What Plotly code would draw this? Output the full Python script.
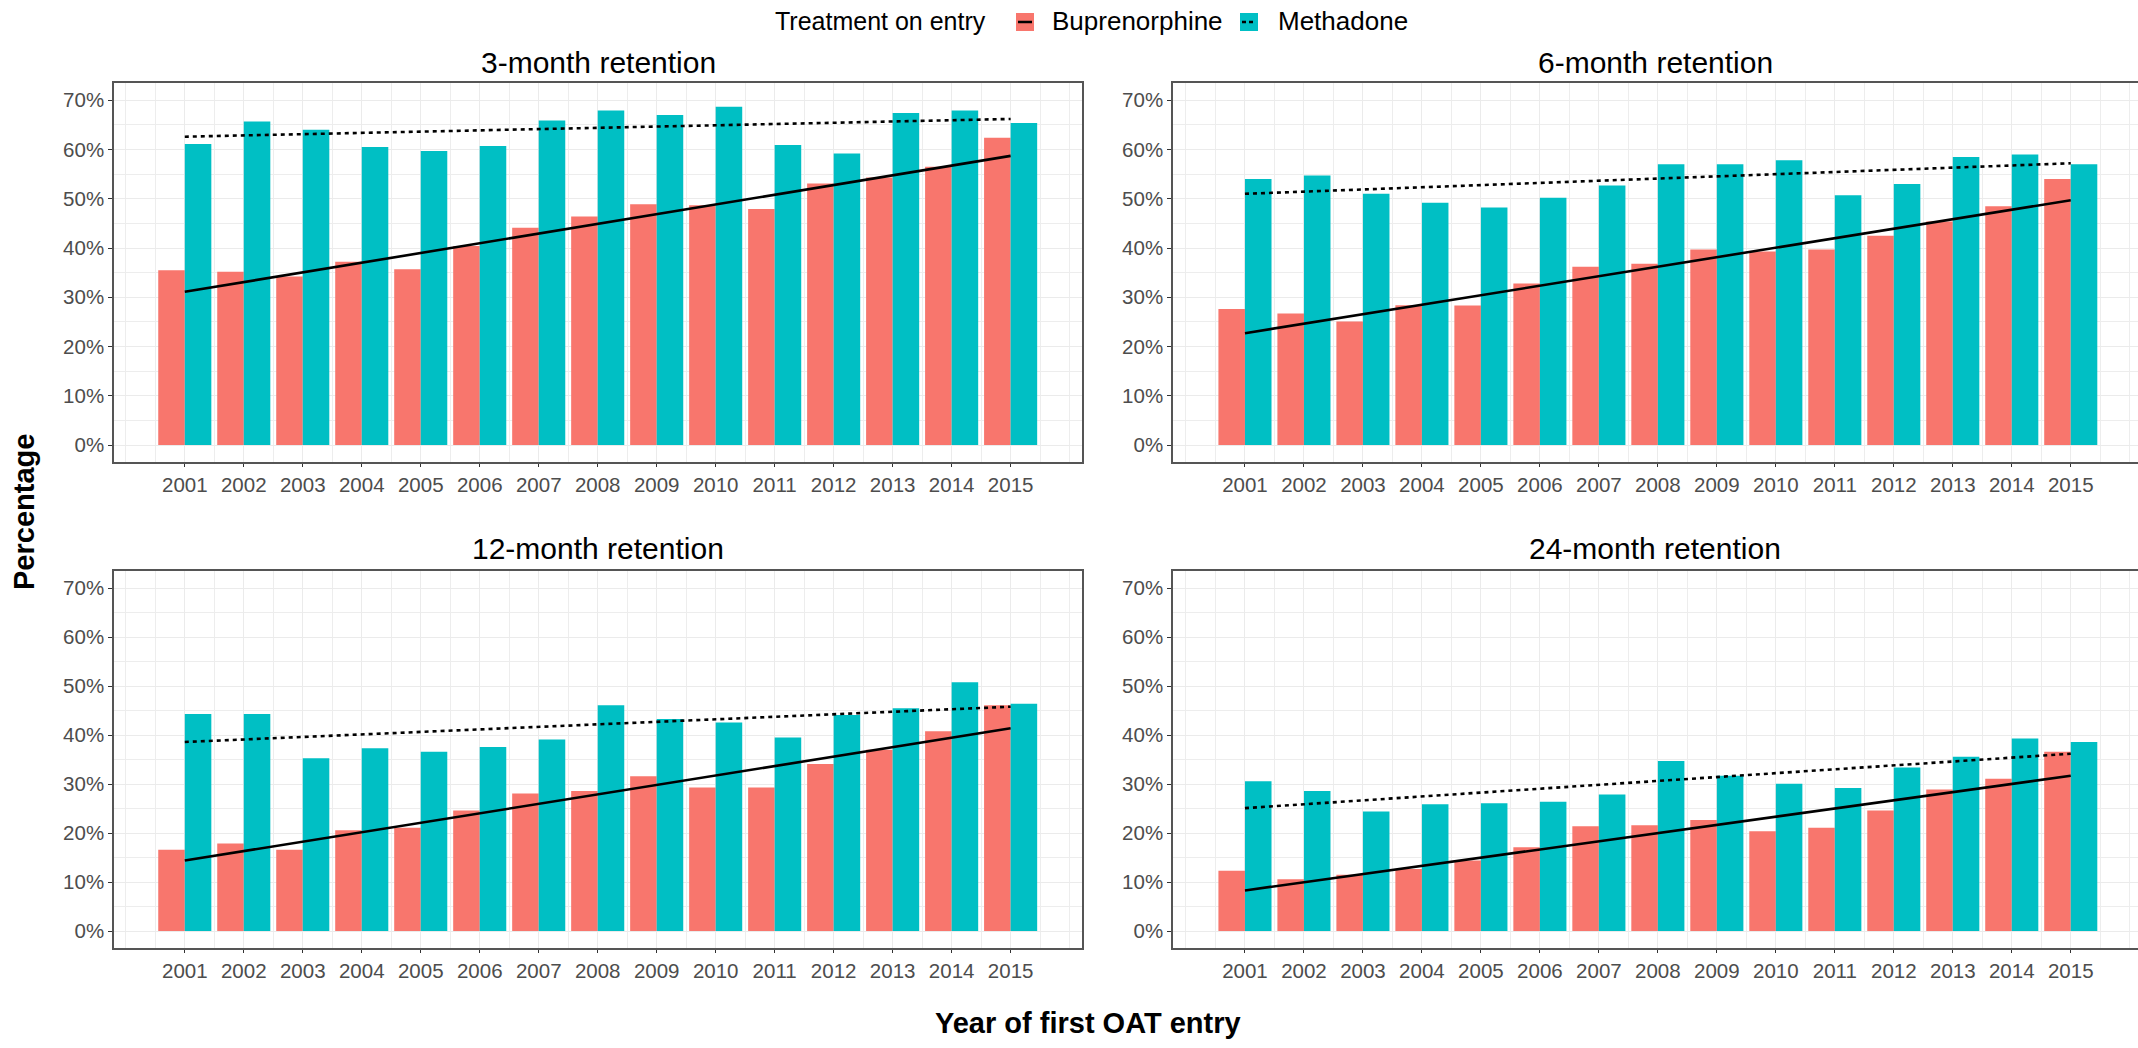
import plotly.graph_objects as go

W, H = 2138, 1048

years = list(range(2001, 2016))
tick_years = [str(y) for y in years]
trend_years = [2001, 2015]

panel_titles = ["3-month retention", "6-month retention", "12-month retention", "24-month retention"]

# Percent retained
bup_3m = [35.5, 35.2, 34.2, 37.2, 35.7, 40.4, 44.1, 46.4, 48.9, 48.7, 47.9, 53.1, 54.3, 56.5, 62.4]
met_3m = [61.1, 65.7, 64.0, 60.5, 59.7, 60.7, 65.9, 67.9, 67.0, 68.7, 60.9, 59.2, 67.4, 67.9, 65.4]
bup_6m = [27.6, 26.7, 25.1, 28.4, 28.3, 32.8, 36.2, 36.8, 39.7, 39.3, 39.7, 42.5, 45.4, 48.5, 54.0]
met_6m = [54.0, 54.7, 51.0, 49.2, 48.2, 50.2, 52.7, 57.0, 57.0, 57.8, 50.7, 53.0, 58.5, 59.0, 57.0]
bup_12m = [16.6, 17.9, 16.6, 20.6, 21.1, 24.6, 28.1, 28.6, 31.6, 29.3, 29.3, 34.1, 37.0, 40.8, 46.1]
met_12m = [44.3, 44.3, 35.3, 37.3, 36.6, 37.6, 39.1, 46.1, 43.3, 42.6, 39.5, 44.1, 45.5, 50.8, 46.4]
bup_24m = [12.3, 10.6, 11.5, 12.7, 14.4, 17.1, 21.4, 21.6, 22.7, 20.4, 21.1, 24.6, 28.9, 31.1, 36.6]
met_24m = [30.6, 28.6, 24.4, 25.9, 26.1, 26.4, 27.9, 34.7, 31.7, 30.1, 29.2, 33.4, 35.6, 39.3, 38.6]

# Trend lines (value at 2001 and at 2015)
bup_trend_3m = [31.1, 58.7]
met_trend_3m = [62.6, 66.2]
bup_trend_6m = [22.7, 49.7]
met_trend_6m = [51.0, 57.2]
bup_trend_12m = [14.4, 41.4]
met_trend_12m = [38.6, 45.8]
bup_trend_24m = [8.3, 31.7]
met_trend_24m = [25.1, 36.2]

y_ticks = [0, 10, 20, 30, 40, 50, 60, 70]

RED = "#F8766D"
TEAL = "#00BFC4"
FONT = "Liberation Sans, Arial, sans-serif"

panels = [
    (bup_3m, met_3m, bup_trend_3m, met_trend_3m),
    (bup_6m, met_6m, bup_trend_6m, met_trend_6m),
    (bup_12m, met_12m, bup_trend_12m, met_trend_12m),
    (bup_24m, met_24m, bup_trend_24m, met_trend_24m),
]

# panel boxes in pixels: (left, top, right, bottom)
boxes = [
    (114, 83, 1082, 462),
    (1173, 83, 2138, 462),
    (114, 571, 1082, 948),
    (1173, 571, 2138, 948),
]
x_ranges = [
    [1999.80, 2016.21],
    [1999.78, 2016.14],
    [1999.80, 2016.21],
    [1999.78, 2016.14],
]
y_range = [-3.45, 73.5]

fig = go.Figure()
layout = dict(
    width=W, height=H,
    margin=dict(l=0, r=0, t=0, b=0),
    paper_bgcolor="white", plot_bgcolor="white",
    showlegend=False,
    barmode="overlay",
    font=dict(family=FONT, color="#000000"),
)

for i, ((bup, met, bt, mt), box, xr) in enumerate(zip(panels, boxes, x_ranges)):
    n = i + 1
    xa = "x" if n == 1 else f"x{n}"
    ya = "y" if n == 1 else f"y{n}"
    fig.add_trace(go.Bar(x=years, y=bup, width=0.45, offset=-0.45, marker=dict(color=RED, line=dict(width=0)),
                         name="Buprenorphine", xaxis=xa, yaxis=ya))
    fig.add_trace(go.Bar(x=years, y=met, width=0.45, offset=0.0, marker=dict(color=TEAL, line=dict(width=0)),
                         name="Methadone", xaxis=xa, yaxis=ya))
    fig.add_trace(go.Scatter(x=trend_years, y=bt, mode="lines", line=dict(color="black", width=2.6),
                             xaxis=xa, yaxis=ya, hoverinfo="skip"))
    fig.add_trace(go.Scatter(x=trend_years, y=mt, mode="lines", line=dict(color="black", width=2.6, dash="4px,4px"),
                             xaxis=xa, yaxis=ya, hoverinfo="skip"))
    l, t, r, b = box
    right_panel = (n % 2 == 0)
    xkey = "xaxis" if n == 1 else f"xaxis{n}"
    ykey = "yaxis" if n == 1 else f"yaxis{n}"
    layout[xkey] = dict(
        domain=[l / W, r / W], anchor=ya, range=xr,
        tickmode="array", tickvals=years, ticktext=tick_years,
        ticks="outside", ticklen=3.5, tickwidth=1.2, tickcolor="#333333",
        tickfont=dict(size=20.5, color="#4D4D4D", family=FONT),
        showgrid=True, gridcolor="#EBEBEB", gridwidth=1,
        minor=dict(tick0=2000, dtick=0.5, showgrid=True, gridcolor="#EDEDED", gridwidth=1, ticks=""),
        showline=True, linecolor="#555555", linewidth=1.5, mirror=True,
        zeroline=False, fixedrange=True,
    )
    layout[ykey] = dict(
        domain=[1 - b / H, 1 - t / H], anchor=xa, range=y_range,
        tickmode="array", tickvals=y_ticks, ticktext=[f"{v}%" for v in y_ticks],
        ticks="outside", ticklen=4, tickwidth=1.2, tickcolor="#333333",
        tickfont=dict(size=20.5, color="#4D4D4D", family=FONT),
        showgrid=True, gridcolor="#EBEBEB", gridwidth=1,
        minor=dict(tick0=0, dtick=5, showgrid=True, gridcolor="#EDEDED", gridwidth=1, ticks=""),
        showline=True, linecolor="#555555", linewidth=1.5, mirror=(not right_panel),
        zeroline=False, fixedrange=True,
    )

annotations = []
title_centers = [(598, 62), (1655, 62), (598, 548), (1655, 548)]
for txt, (cx, cy) in zip(panel_titles, title_centers):
    annotations.append(dict(text=txt, x=cx / W, y=1 - cy / H, xref="paper", yref="paper",
                            xanchor="center", yanchor="middle", showarrow=False,
                            font=dict(size=30, color="black", family=FONT)))

annotations.append(dict(text="<b>Percentage</b>", x=24 / W, y=1 - 512 / H, xref="paper", yref="paper",
                        xanchor="center", yanchor="middle", textangle=-90, showarrow=False,
                        font=dict(size=29, color="black", family=FONT)))
annotations.append(dict(text="<b>Year of first OAT entry</b>", x=1088 / W, y=1 - 1023 / H, xref="paper", yref="paper",
                        xanchor="center", yanchor="middle", showarrow=False,
                        font=dict(size=29, color="black", family=FONT)))

# Legend (drawn manually)
leg_y = 21
annotations.append(dict(text="Treatment on entry", x=773 / W, y=1 - leg_y / H, xref="paper", yref="paper",
                        xanchor="left", yanchor="middle", showarrow=False,
                        font=dict(size=25, color="black", family=FONT)))
annotations.append(dict(text="Buprenorphine", x=1050 / W, y=1 - leg_y / H, xref="paper", yref="paper",
                        xanchor="left", yanchor="middle", showarrow=False,
                        font=dict(size=26, color="black", family=FONT)))
annotations.append(dict(text="Methadone", x=1276 / W, y=1 - leg_y / H, xref="paper", yref="paper",
                        xanchor="left", yanchor="middle", showarrow=False,
                        font=dict(size=26, color="black", family=FONT)))

shapes = []
def key(x0, color, dashed):
    x1 = x0 + 18
    y0, y1 = 13, 31
    shapes.append(dict(type="rect", xref="paper", yref="paper", x0=x0 / W, x1=x1 / W,
                       y0=1 - y1 / H, y1=1 - y0 / H, fillcolor=color, line=dict(width=0)))
    shapes.append(dict(type="line", xref="paper", yref="paper", x0=(x0 + 2) / W, x1=(x1 - 2) / W,
                       y0=1 - 22 / H, y1=1 - 22 / H,
                       line=dict(color="black", width=2.5, dash="4px,3px" if dashed else "solid")))
key(1016, RED, False)
key(1240, TEAL, True)

layout["annotations"] = annotations
layout["shapes"] = shapes
fig.update_layout(**layout)
fig.write_html("out.html")
